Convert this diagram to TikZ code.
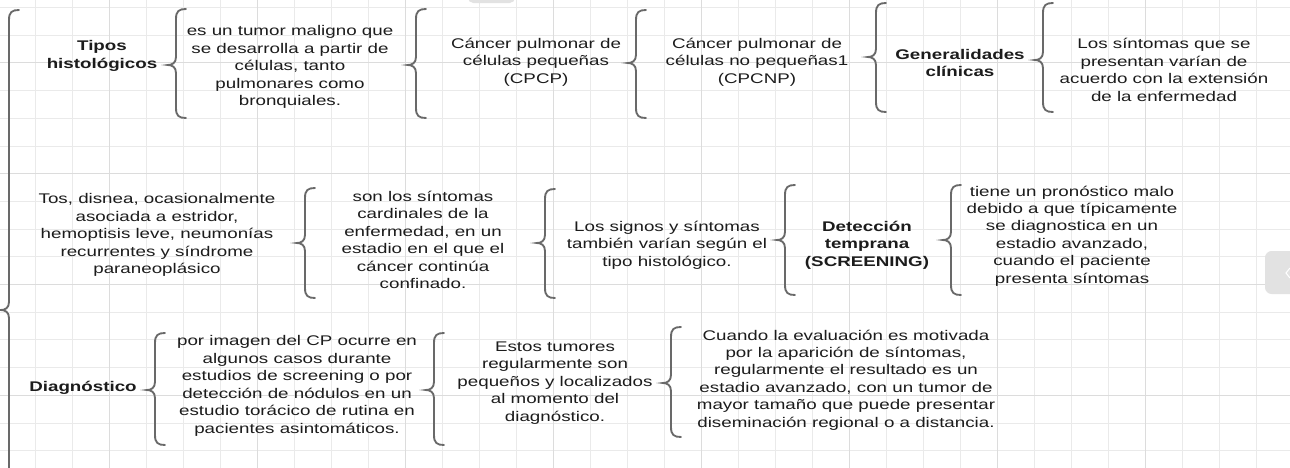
\documentclass[tikz,border=0pt]{standalone}
\usepackage{fontspec}
\setmainfont{Liberation Sans}[FakeStretch=1.34]
\usepackage{tikz}
\definecolor{gridline}{RGB}{234,234,234}
\definecolor{gridmajor}{RGB}{220,220,220}
\definecolor{bracecol}{RGB}{105,105,105}
\definecolor{textcol}{RGB}{28,28,28}
\definecolor{uibox}{RGB}{226,226,226}
\newcommand{\bracel}[4]{%
  \draw[brc] (#1+18,#2) .. controls (#1+11,#2) and (#1+8,#2+2) .. (#1+8,#2+10)
    -- (#1+8,#3-8) .. controls (#1+8,#3-2) and (#1+4,#3) .. (#1,#3)
    .. controls (#1+4,#3) and (#1+8,#3+2) .. (#1+8,#3+8)
    -- (#1+8,#4-10) .. controls (#1+8,#4-2) and (#1+11,#4) .. (#1+18,#4);}
\tikzset{
  brc/.style={color=bracecol,line width=1.4pt,line cap=round},
  txt/.style={align=center,inner sep=0pt,text=textcol,font=\fontsize{10.5}{13.1}\selectfont},
  head/.style={txt,font=\fontsize{10.5}{13.1}\selectfont\bfseries}
}
\begin{document}
\begin{tikzpicture}[x=0.75pt,y=-0.75pt]
\useasboundingbox (0,0) rectangle (1290,468);
\fill[white] (0,0) rectangle (1290,468);
\foreach \k in {0,...,34} \draw[gridline,line width=0.6pt] (35+37*\k,0) -- (35+37*\k,468);
\foreach \k in {0,...,16} \draw[gridline,line width=0.6pt] (0,7.4+27.7*\k) -- (1290,7.4+27.7*\k);
\foreach \k in {2,6,...,34} \draw[gridmajor,line width=0.6pt] (35+37*\k,0) -- (35+37*\k,468);
\foreach \k in {2,6,...,14} \draw[gridmajor,line width=0.6pt] (0,7.4+27.7*\k) -- (1290,7.4+27.7*\k);

\fill[uibox,rounded corners=4pt] (468,-12) rectangle (515,3);
\fill[uibox,rounded corners=5pt] (1265,251) rectangle (1300,294);
\draw[white,line width=0.8pt] (1290,268) -- (1286,273) -- (1290,278);

\coordinate (tipos) at (102,56);
\coordinate (def) at (290,67);
\coordinate (cpcp) at (536,62);
\coordinate (cpcnp) at (757,62);
\coordinate (gen) at (960,63);
\coordinate (sint) at (1164,70);
\coordinate (tos) at (157,235);
\coordinate (card) at (423,240);
\coordinate (signos) at (667,245);
\coordinate (det) at (867,245);
\coordinate (pron) at (1072,236);
\coordinate (diag) at (83,388);
\coordinate (imagen) at (297,386);
\coordinate (tumores) at (555,383);
\coordinate (eval) at (846,380);

\bracel{1}{10}{310}{490}
\bracel{168}{9}{65}{118}
\bracel{408}{9}{65}{118}
\bracel{628}{10}{63}{118}
\bracel{868}{3}{57}{112}
\bracel{1035}{3}{60}{112}
\bracel{297}{188}{243}{298}
\bracel{537}{189}{243}{298}
\bracel{777}{185}{240}{295}
\bracel{943}{185}{240}{295}
\bracel{147}{333}{390}{445}
\bracel{426}{333}{390}{445}
\bracel{663}{327}{383}{437}

\node[head] (n1) at (tipos) {Tipos\\histológicos};
\node[txt] (n2) at (def) {es un tumor maligno que\\se desarrolla a partir de\\células, tanto\\pulmonares como\\bronquiales.};
\node[txt] (n3) at (cpcp) {Cáncer pulmonar de\\células pequeñas\\(CPCP)};
\node[txt] (n4) at (cpcnp) {Cáncer pulmonar de\\células no pequeñas1\\(CPCNP)};
\node[head] (n5) at (gen) {Generalidades\\clínicas};
\node[txt] (n6) at (sint) {Los síntomas que se\\presentan varían de\\acuerdo con la extensión\\de la enfermedad};
\node[txt] (n7) at (tos) {Tos, disnea, ocasionalmente\\asociada a estridor,\\hemoptisis leve, neumonías\\recurrentes y síndrome\\paraneoplásico};
\node[txt] (n8) at (card) {son los síntomas\\cardinales de la\\enfermedad, en un\\estadio en el que el\\cáncer continúa\\confinado.};
\node[txt] (n9) at (signos) {Los signos y síntomas\\también varían según el\\tipo histológico.};
\node[head] (n10) at (det) {Detección\\temprana\\(SCREENING)};
\node[txt] (n11) at (pron) {tiene un pronóstico malo\\debido a que típicamente\\se diagnostica en un\\estadio avanzado,\\cuando el paciente\\presenta síntomas};
\node[head] (n12) at (diag) {Diagnóstico};
\node[txt] (n13) at (imagen) {por imagen del CP ocurre en\\algunos casos durante\\estudios de screening o por\\detección de nódulos en un\\estudio torácico de rutina en\\pacientes asintomáticos.};
\node[txt] (n14) at (tumores) {Estos tumores\\regularmente son\\pequeños y localizados\\al momento del\\diagnóstico.};
\node[txt] (n15) at (eval) {Cuando la evaluación es motivada\\por la aparición de síntomas,\\regularmente el resultado es un\\estadio avanzado, con un tumor de\\mayor tamaño que puede presentar\\diseminación regional o a distancia.};
\end{tikzpicture}
\end{document}
